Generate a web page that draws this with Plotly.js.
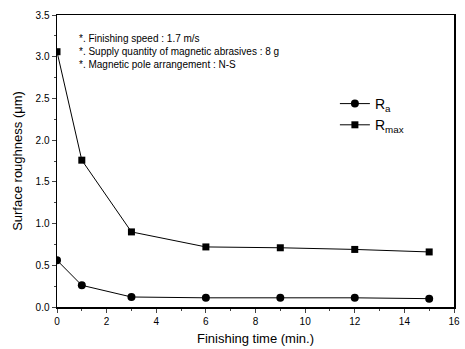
<!DOCTYPE html>
<html><head><meta charset="utf-8">
<script src="https://cdn.plot.ly/plotly-3.0.1.min.js"></script>
<style>html,body{margin:0;padding:0;background:#fff}#c{width:465px;height:349px}</style>
</head><body><div id="c"></div>
<script>
const times = [0, 1, 3, 6, 9, 12, 15];
const ra = [0.56, 0.26, 0.12, 0.11, 0.11, 0.11, 0.10];
const rmax = [3.06, 1.76, 0.90, 0.72, 0.71, 0.69, 0.66];
const notes = [
  "*. Finishing speed : 1.7 m/s",
  "*. Supply quantity of magnetic abrasives : 8 g",
  "*. Magnetic pole arrangement : N-S"
];
const F = "Liberation Sans, Arial, sans-serif";
const data = [
  {x: times, y: ra, name: "R<sub>a</sub>", mode: "lines+markers",
   line: {color: "#000", width: 1}, marker: {symbol: "circle", size: 8, color: "#000"}},
  {x: times, y: rmax, name: "R<sub>max</sub>", mode: "lines+markers",
   line: {color: "#000", width: 1}, marker: {symbol: "square", size: 7, color: "#000"}}
];
const layout = {
  width: 465, height: 349,
  margin: {l: 57, r: 11, t: 15, b: 42},
  paper_bgcolor: "#fff", plot_bgcolor: "#fff",
  font: {family: F, color: "#000", size: 10},
  showlegend: true,
  legend: {x: 0.7, y: 0.75, xanchor: "left", yanchor: "top", bgcolor: "rgba(0,0,0,0)",
           font: {size: 14, family: F}, tracegroupgap: 0},
  xaxis: {range: [0, 16], dtick: 2, ticks: "outside", ticklen: 4, tickwidth: 1,
          minor: {dtick: 1, ticks: "outside", ticklen: 2},
          showline: true, linecolor: "#000", linewidth: 1.5, mirror: true,
          showgrid: false, zeroline: false,
          title: {text: "Finishing time (min.)", font: {size: 13}, standoff: 8},
          tickfont: {size: 10}},
  yaxis: {range: [0, 3.5], dtick: 0.5, tickformat: ".1f", ticks: "outside", ticklen: 4, tickwidth: 1,
          minor: {dtick: 0.25, ticks: "outside", ticklen: 2},
          showline: true, linecolor: "#000", linewidth: 1.5, mirror: true,
          showgrid: false, zeroline: false,
          title: {text: "Surface roughness (\u03bcm)", font: {size: 13}, standoff: 10},
          tickfont: {size: 10}},
  annotations: notes.map((t, i) => ({
    text: t, xref: "paper", yref: "paper", x: 0.05, y: 0.92 - i * 0.045,
    xanchor: "left", yanchor: "middle", showarrow: false, font: {size: 10, family: F}
  }))
};
Plotly.newPlot("c", data, layout, {displayModeBar: false, staticPlot: true});
</script></body></html>
